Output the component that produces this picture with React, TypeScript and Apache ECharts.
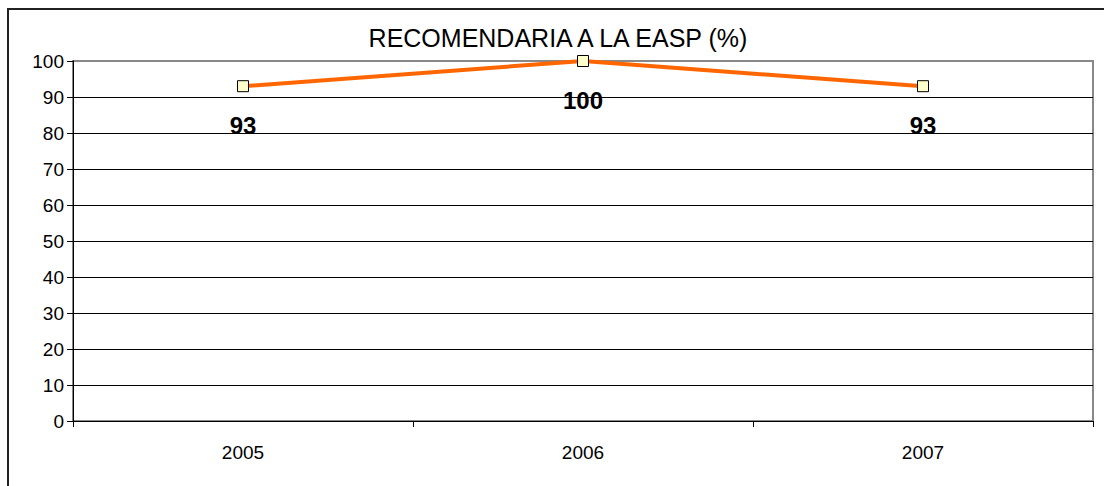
import React, { useEffect, useRef } from "react";
import * as echarts from "echarts";

const categories = ["2005", "2006", "2007"];
const values = [93, 100, 93];
const titleText = "RECOMENDARIA A LA EASP (%)";

export default function App() {
  const ref = useRef<HTMLDivElement>(null);
  useEffect(() => {
    document.body.style.margin = "0";
    const chart = echarts.init(ref.current!, null, { renderer: "svg" });
    const font = "'Liberation Sans', Arial, sans-serif";
    chart.setOption({
      animation: false,
      backgroundColor: "#ffffff",
      title: {
        text: titleText,
        left: 553,
        top: 20,
        textAlign: "center",
        textStyle: { fontFamily: font, fontSize: 25, fontWeight: "normal", color: "#000" },
      },
      graphic: [
        {
          type: "rect",
          shape: { x: 8, y: 9, width: 1300, height: 700 },
          style: { fill: "none", stroke: "#222", lineWidth: 2 },
          silent: true,
          z: 100,
        },
      ],
      grid: {
        left: 73,
        top: 61,
        right: 11,
        bottom: 65,
        show: true,
        borderColor: "#888",
        borderWidth: 2,
      },
      xAxis: {
        type: "category",
        data: categories,
        boundaryGap: true,
        axisLine: { lineStyle: { color: "#000", width: 1 } },
        axisTick: { show: true, length: 6, lineStyle: { color: "#000" } },
        axisLabel: { fontFamily: font, fontSize: 19, color: "#000", margin: 22 },
        splitLine: { show: false },
      },
      yAxis: {
        type: "value",
        min: 0,
        max: 100,
        interval: 10,
        axisLine: { show: true, lineStyle: { color: "#000", width: 1 } },
        axisTick: { show: true, length: 6, lineStyle: { color: "#000" } },
        axisLabel: { fontFamily: font, fontSize: 19, color: "#000", margin: 9 },
        splitLine: { show: true, showMaxLine: false, lineStyle: { color: "#000", width: 1 } },
      },
      series: [
        {
          type: "line",
          data: values,
          lineStyle: { color: "#FF6600", width: 4 },
          itemStyle: { color: "#FFFFCC", borderColor: "#000", borderWidth: 1 },
          symbol: "rect",
          symbolSize: 11,
          label: {
            show: true,
            position: "bottom",
            distance: 21,
            fontFamily: font,
            fontSize: 24,
            fontWeight: "bold",
            color: "#000",
          },
          z: 5,
        },
      ],
    });
    return () => chart.dispose();
  }, []);
  return <div ref={ref} style={{ width: 1104, height: 486 }} />;
}
